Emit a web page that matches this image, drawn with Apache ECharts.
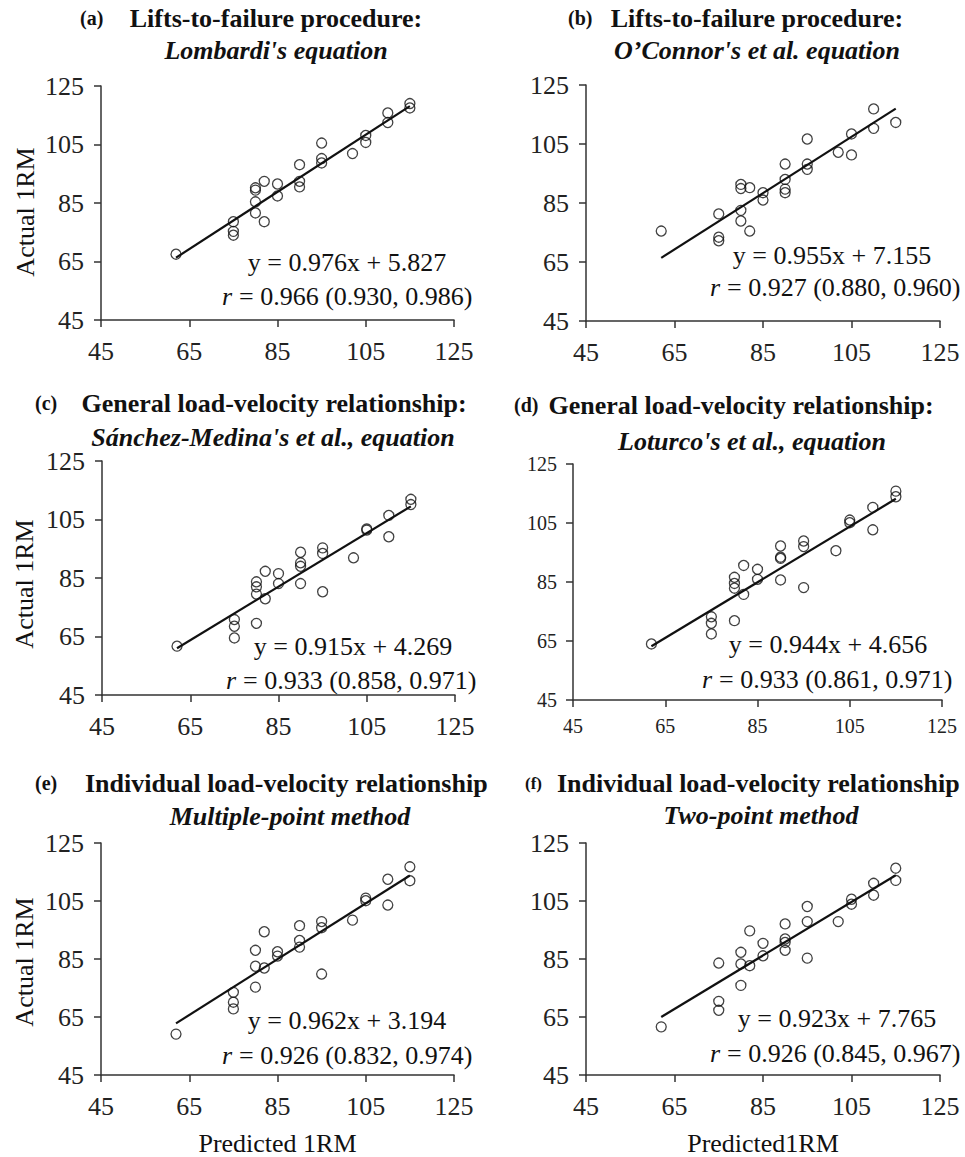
<!DOCTYPE html>
<html>
<head>
<meta charset="utf-8">
<script src="https://cdn.jsdelivr.net/npm/echarts@6/dist/echarts.min.js"></script>
<style>
html,body{margin:0;padding:0;background:#fff;}
#chart{width:965px;height:1157px;}
</style>
</head>
<body>
<div id="chart"></div>
<script>
// ---------------- DATA ----------------
const tickValues = [45, 65, 85, 105, 125];

const predA = [62,75,75,75,80,80,80,80,82,82,85,85,90,90,90,95,95,95,102,105,105,110,110,115,115];
const actA  = [67.5,78.6,75.3,74.0,90.2,89.4,85.4,81.6,92.4,78.6,91.5,87.4,98.1,92.4,90.5,105.5,100.2,98.7,101.9,108.1,105.7,115.8,112.5,119.0,117.5];

const predB = [62,75,75,75,80,80,80,80,82,82,85,85,90,90,90,90,95,95,95,102,105,105,110,110,115];
const actB  = [75.5,81.3,73.4,72.2,91.3,89.9,82.5,78.9,90.2,75.5,88.5,86.0,98.2,93.0,89.7,88.5,106.7,98.2,96.4,102.2,108.4,101.3,116.9,110.3,112.3];

const predC = [62,75,75,75,80,80,80,80,82,82,85,85,90,90,90,90,95,95,95,102,105,105,110,110,115,115];
const actC  = [61.7,70.8,68.5,64.5,83.7,82.0,79.5,69.5,87.3,77.9,86.5,83.1,93.8,90.2,89.0,83.1,95.3,93.4,80.3,91.9,101.8,101.4,106.4,99.1,111.9,110.1];

const predD = [62,75,75,75,80,80,80,80,82,82,85,85,90,90,90,90,95,95,95,102,105,105,110,110,115,115];
const actD  = [64.0,73.2,71.0,67.4,86.6,84.5,82.9,71.9,90.6,80.8,89.3,85.9,97.2,93.4,93.0,85.7,98.9,97.0,83.1,95.6,106.0,105.1,110.3,102.7,115.8,113.9];

const predE = [62,75,75,75,80,80,80,82,82,85,85,90,90,90,95,95,95,102,105,105,110,110,115,115];
const actE  = [59.1,73.5,70.1,67.8,88.0,82.5,75.3,94.4,81.9,87.5,86.0,96.5,91.4,89.1,97.9,95.8,79.8,98.4,106.0,105.1,112.5,103.6,116.8,112.0];

const predF = [62,75,75,75,80,80,80,82,82,85,85,90,90,90,90,95,95,95,102,105,105,110,110,115,115];
const actF  = [61.6,83.6,70.4,67.3,87.3,83.3,75.9,94.7,82.7,90.4,86.1,97.1,91.9,90.7,88.0,103.1,97.9,85.3,97.9,105.6,103.9,111.1,107.0,116.3,112.1];

// trend line end points (predicted, actual)
const trendA = [[62, 66.3], [115, 118.1]];
const trendB = [[62, 66.4], [115, 117.0]];
const trendC = [[62, 61.0], [115, 109.5]];
const trendD = [[62, 63.2], [115, 113.2]];
const trendE = [[62, 62.8], [115, 113.8]];
const trendF = [[62, 65.0], [115, 113.9]];

const panelTags   = ['(a)', '(b)', '(c)', '(d)', '(e)', '(f)'];
const titleLine1  = ['Lifts-to-failure procedure:', 'Lifts-to-failure procedure:',
                     'General load-velocity relationship:', 'General load-velocity relationship:',
                     'Individual load-velocity relationship', 'Individual load-velocity relationship'];
const titleLine2  = ["Lombardi's equation", "O\u2019Connor's et al. equation",
                     "S\u00e1nchez-Medina's et al., equation", "Loturco's et al., equation",
                     'Multiple-point method', 'Two-point method'];
const eqTexts     = ['y = 0.976x + 5.827', 'y = 0.955x + 7.155', 'y = 0.915x + 4.269',
                     'y = 0.944x + 4.656', 'y = 0.962x + 3.194', 'y = 0.923x + 7.765'];
const rTexts      = ['= 0.966 (0.930, 0.986)', '= 0.927 (0.880, 0.960)', '= 0.933 (0.858, 0.971)',
                     '= 0.933 (0.861, 0.971)', '= 0.926 (0.832, 0.974)', '= 0.926 (0.845, 0.967)'];
const yAxisName = 'Actual 1RM';
const xAxisNames = ['', '', '', '', 'Predicted 1RM', 'Predicted1RM'];

// ---------------- LAYOUT / STYLE ----------------
const FONT = "'Liberation Serif', 'Times New Roman', serif";
const preds = [predA, predB, predC, predD, predE, predF];
const acts  = [actA, actB, actC, actD, actE, actF];
const trends = [trendA, trendB, trendC, trendD, trendE, trendF];

const grids = [
  {left: 101, top: 86,  width: 353, height: 234},
  {left: 586, top: 85,  width: 354, height: 236},
  {left: 102, top: 461, width: 353, height: 234},
  {left: 573, top: 464, width: 369, height: 236},
  {left: 101, top: 843, width: 353, height: 234},
  {left: 586, top: 843, width: 354, height: 234}
];
const tickFont = [26, 26, 26, 20, 26, 26];
const xLabMargin = [18, 18, 18, 16, 18, 18];
const yLabMargin = [17, 17, 17, 16, 17, 17];

// title positions: tag x, tag y, line1 x, line1 align, line1 y, line2 center x, line2 y
const titlePos = [
  {tx: 80,  ty: 18,  l1x: 276, l1a: 'center', l1y: 18,  l2x: 276, l2y: 50,  tagSize: 20},
  {tx: 568, ty: 18,  l1x: 757, l1a: 'center', l1y: 18,  l2x: 757, l2y: 50,  tagSize: 20},
  {tx: 35,  ty: 403, l1x: 274, l1a: 'center', l1y: 403, l2x: 273, l2y: 437, tagSize: 20},
  {tx: 514, ty: 405, l1x: 741, l1a: 'center', l1y: 405, l2x: 752, l2y: 441, tagSize: 20},
  {tx: 35,  ty: 783, l1x: 85,  l1a: 'left',   l1y: 783, l2x: 290, l2y: 816, tagSize: 20},
  {tx: 525, ty: 783, l1x: 557, l1a: 'left',   l1y: 783, l2x: 761, l2y: 815, tagSize: 17}
];
// annotation positions: center x, eq y, r line left x, r y
const annPos = [
  {cx: 347, ey: 262,  rx: 222, ry: 296},
  {cx: 832, ey: 255,  rx: 710, ry: 287},
  {cx: 353, ey: 646,  rx: 226, ry: 680},
  {cx: 828, ey: 644,  rx: 702, ry: 679},
  {cx: 347, ey: 1020, rx: 222, ry: 1055},
  {cx: 837, ey: 1018, rx: 710, ry: 1053}
];
const yNamePos = [{x: 25, y: 212}, {x: 24, y: 584}, {x: 24, y: 962}];

function txt(text, x, y, size, opts) {
  opts = opts || {};
  return {
    type: 'text', x: x, y: y, rotation: opts.rotation || 0,
    style: {
      text: text,
      fill: opts.fill || '#111',
      fontFamily: FONT,
      fontSize: size,
      fontWeight: opts.weight || 'normal',
      fontStyle: opts.style || 'normal',
      align: opts.align || 'left', textAlign: opts.align || 'left',
      verticalAlign: 'middle', textVerticalAlign: 'middle'
    }
  };
}

const xAxes = [], yAxes = [], series = [], graphics = [];
for (let i = 0; i < 6; i++) {
  const common = {
    gridIndex: i, type: 'value',
    min: tickValues[0], max: tickValues[tickValues.length - 1],
    interval: tickValues[1] - tickValues[0],
    splitLine: {show: false},
    axisLine: {show: true, onZero: false, lineStyle: {color: '#333', width: 1.5}},
    axisTick: {show: true, inside: false, length: 7, lineStyle: {color: '#333', width: 1.5}}
  };
  xAxes.push(Object.assign({}, common, {
    name: xAxisNames[i], nameLocation: 'middle', nameGap: 55,
    nameTextStyle: {fontFamily: FONT, fontSize: 26, color: '#111'},
    axisLabel: {fontFamily: FONT, fontSize: tickFont[i], color: '#222', margin: xLabMargin[i]}
  }));
  yAxes.push(Object.assign({}, common, {
    axisLabel: {fontFamily: FONT, fontSize: tickFont[i], color: '#222', margin: yLabMargin[i]}
  }));
  series.push({
    type: 'scatter', xAxisIndex: i, yAxisIndex: i,
    data: preds[i].map((p, k) => [p, acts[i][k]]),
    symbol: 'circle', symbolSize: 10,
    itemStyle: {color: 'rgba(255,255,255,0)', borderColor: '#111', borderWidth: 1.3},
    z: 3
  });
  series.push({
    type: 'line', xAxisIndex: i, yAxisIndex: i,
    data: trends[i], symbol: 'none',
    lineStyle: {color: '#111', width: 2.2}, z: 2
  });

  const tp = titlePos[i];
  graphics.push(txt(panelTags[i], tp.tx, tp.ty, tp.tagSize, {weight: 'bold'}));
  graphics.push(txt(titleLine1[i], tp.l1x, tp.l1y, 26, {weight: 'bold', align: tp.l1a}));
  graphics.push(txt(titleLine2[i], tp.l2x, tp.l2y, 26, {weight: 'bold', style: 'italic', align: 'center'}));

  const ap = annPos[i];
  graphics.push(txt(eqTexts[i], ap.cx, ap.ey, 26, {align: 'center'}));
  graphics.push(txt('r', ap.rx, ap.ry, 26, {style: 'italic'}));
  graphics.push(txt(rTexts[i], ap.rx + 17, ap.ry, 26));
}
yNamePos.forEach(p => {
  graphics.push(txt(yAxisName, p.x, p.y, 26, {align: 'center', rotation: Math.PI / 2}));
});

const chart = echarts.init(document.getElementById('chart'), null, {renderer: 'svg'});
chart.setOption({
  animation: false,
  backgroundColor: '#fff',
  grid: grids,
  xAxis: xAxes,
  yAxis: yAxes,
  series: series,
  graphic: graphics
});
</script>
</body>
</html>
